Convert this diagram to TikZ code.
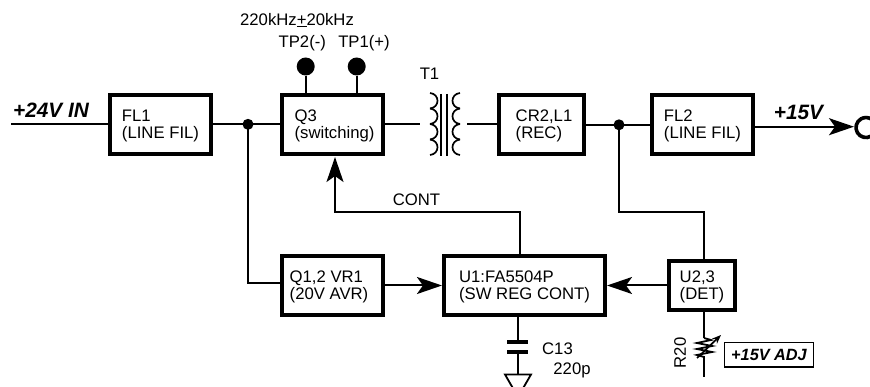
\documentclass[tikz,border=0pt]{standalone}
\usepackage{fontspec}
\setmainfont{Liberation Sans}
\usetikzlibrary{arrows.meta}
\tikzset{
 x=1pt,y=-1pt,
 blk/.style={draw=black,line width=3.6pt,fill=white,minimum width=101.5pt,minimum height=59.5pt,inner sep=0pt,align=left,text depth=0pt,font=\fontsize{16.7}{17.3}\selectfont},
 wire/.style={draw=black,line width=1.7pt},
 arr/.style={draw=black,line width=2pt,-{Stealth[length=25pt,width=17pt,inset=6pt]}},
 txt/.style={inner sep=0pt,font=\fontsize{16.7}{17}\selectfont},
 btxt/.style={inner sep=0pt,font=\fontsize{20.8}{21}\selectfont\bfseries\itshape},
 dot/.style={circle,fill=black,inner sep=0pt,minimum size=#1},
 coil/.style={line width=1.7pt},
}
\begin{document}
\begin{tikzpicture}
\useasboundingbox (0,0) rectangle (870,387);
\clip (0,0) rectangle (870,387);
% blocks
\node[blk] (fl1) at (160.5,124.5) {FL1\\(LINE FIL)};
\node[blk] (q3) at (332.5,124.5) {\hspace*{4pt}Q3\\\hspace*{4pt}(switching)};
\node[blk,minimum width=85.5pt] (cr) at (541.5,124.5) {\hspace*{5pt}CR2,L1\\\hspace*{5pt}(REC)};
\node[blk] (fl2) at (702.5,124.5) {FL2\\(LINE FIL)};
\node[blk] (q12) at (332.5,285.5) {Q1,2 VR1\hspace*{7pt}\\(20V AVR)\hspace*{7pt}};
\node[blk,minimum width=161.5pt] (u1) at (524.5,285.5) {U1:FA5504P\\(SW REG CONT)};
\node[blk,minimum width=66.5pt,minimum height=49.5pt] (u23) at (702,285.5) {U2,3\\(DET)};
% free ends
\coordinate (in) at (11,124.3);
\coordinate (j1) at (248,124.3);
\coordinate (j2) at (619,124.8);
\coordinate (tl) at (420,124.3);
\coordinate (tr) at (467,124.3);
\coordinate (out) at (854,126.7);
% main wires
\draw[wire] (in) -- (fl1.west |- in);
\draw[wire] (fl1.east |- j1) -- (q3.west |- j1);
\draw[wire] (q3.east |- tl) -- (tl);
\draw[wire] (tr) -- (cr.west |- tr);
\draw[wire] (cr.east |- j2) -- (fl2.west |- j2);
\draw[arr] (fl2.east |- out) -- (out);
\node[dot=11pt] (d1) at (j1) {};
\node[dot=11pt] (d2) at (j2) {};
\draw[wire] (j1) -- (248,283) -- (q12.west |- 0,283);
\draw[wire] (j2) -- (619,212) -- (704,212) -- (704,259);
\draw[arr] (q12.east) -- (u1.west);
\draw[arr] (u23.west) -- (u1.east);
\draw[arr] (520,254) -- (520,212) -- (335,212) -- (335,157);
\node[txt] (cont) at (416.5,200) {CONT};
% test points
\node[dot=18pt] (tp2) at (305.7,66.5) {};
\node[dot=18pt] (tp1) at (356.7,66.5) {};
\draw[wire] (tp2) -- (tp2 |- q3.north);
\draw[wire] (tp1) -- (tp1 |- q3.north);
\node[txt] (freq) at (297,20) {220kHz\underline{+}20kHz};
\node[txt] (t2) at (302.3,43) {TP2(-)};
\node[txt] (t1) at (364,43) {TP1(+)};
% transformer
\node[txt] (t1l) at (429.5,74) {T1};
\draw[coil] (440.7,94) -- (440.7,156) (447.3,94) -- (447.3,156);
\foreach \y in {93,108.5,124,139.5}{
 \draw[coil] (430,\y) .. controls (440,\y+1) and (440,\y+14.5) .. (430,\y+15.5);
 \draw[coil] (460,\y) .. controls (450,\y+1) and (450,\y+14.5) .. (460,\y+15.5);
}
% output
\node[btxt] (p15) at (798.5,112) {+15V};
\node[btxt] (p24) at (51,110) {+24V IN};
\draw[line width=3.6pt] (871,136.2) arc[start angle=60,end angle=300,radius=10];
% capacitor
\coordinate (cap1) at (518,342);
\coordinate (cap2) at (518,352);
\draw[wire] (cap1 |- u1.south) -- (cap1);
\draw[line width=4pt] (507,342) -- (528,342) (507,352) -- (528,352);
\draw[wire] (cap2) -- (518,374);
\draw[line width=1.8pt] (505,374.5) -- (531,374.5) -- (518,397) -- cycle;
\node[txt] (c13) at (557.5,349) {C13};
\node[txt] (c220) at (572,370) {220p};
% R20
\coordinate (rb) at (704,377);
\draw[wire] (rb |- u23.south) -- (704,338);
\draw[wire] (704,356) -- (rb);
\draw[line width=1.8pt] (704,338) -- (711,340) -- (697,343) -- (712,346) -- (697,349) -- (712,352) -- (697,355) -- (704,357);
\draw[line width=1.7pt,-{Stealth[length=9pt,width=7pt]}] (697,358) -- (721,335);
\node[txt,rotate=90] (r20) at (680,353) {R20};
\node[draw=black,line width=1.5pt,minimum width=89pt,minimum height=24.5pt,inner sep=0pt,font=\fontsize{16.3}{17}\selectfont\bfseries\itshape] (adj) at (769,354.5) {+15V ADJ};
\end{tikzpicture}
\end{document}
